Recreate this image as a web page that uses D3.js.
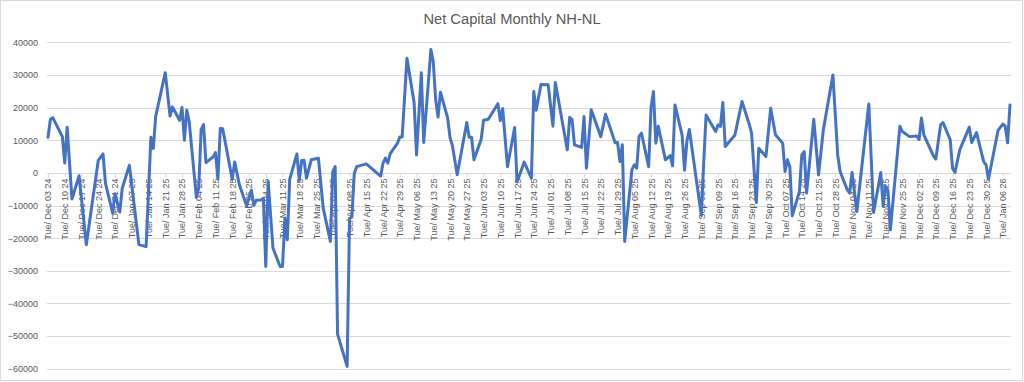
<!DOCTYPE html>
<html>
<head>
<meta charset="utf-8">
<script src="https://cdn.jsdelivr.net/npm/d3@7"></script>
<style>
  html, body { margin: 0; padding: 0; background: #fff; }
  svg { display: block; font-family: "Liberation Sans", Arial, sans-serif; }
</style>
</head>
<body>
<svg id="chart" width="1024" height="382"></svg>
<script>
// ---- data ----
const chartTitle = "Net Capital Monthly NH-NL";
const startDate = Date.UTC(2024, 11, 3);   // Tue Dec 03 2024
const lastDayOffset = 402;                  // Fri Jan 09 2026
// days since startDate (calendar days) of each point
const dayOffsets = [
  0, 1, 2, 6, 7, 8, 10, 13, 16, 21, 23, 24, 27, 28, 30, 31, 34, 38, 41, 43,
  44, 45, 49, 51, 52, 55, 56, 57, 58, 59, 62, 63, 64, 65, 66, 69, 70, 71, 72, 73,
  77, 78, 80, 83, 85, 86, 87, 89, 90, 91, 92, 94, 97, 98, 99, 100, 101, 104, 105, 106,
  107, 108, 110, 113, 115, 118, 119, 120, 121, 125, 126, 127, 128, 129, 133, 139, 140, 141, 142, 143,
  146, 147, 148, 150, 153, 154, 156, 157, 160, 161, 162, 163, 164, 167, 168, 169, 171, 175, 176, 177,
  178, 181, 182, 184, 188, 189, 190, 192, 195, 196, 199, 202, 203, 204, 206, 209, 211, 212, 217, 218,
  219, 220, 223, 224, 225, 227, 231, 233, 237, 238, 239, 240, 241, 244, 245, 246, 247, 248, 251, 252,
  253, 254, 255, 258, 260, 261, 262, 265, 266, 267, 268, 273, 274, 275, 279, 280, 281, 282, 283, 287,
  290, 293, 294, 296, 297, 300, 302, 304, 307, 308, 309, 310, 311, 314, 315, 316, 317, 320, 322, 324,
  328, 330, 331, 334, 335, 336, 338, 343, 345, 348, 349, 350, 351, 352, 356, 357, 360, 363, 364, 365,
  366, 370, 371, 373, 374, 377, 378, 379, 381, 385, 386, 388, 391, 392, 393, 397, 399, 400, 401, 402
];
const netValues = [
  10900, 16400, 16900, 11100, 3000, 14000, -8000, -900, -22000, 3800, 5800, -3150, -12300, -6400, -12000, -4800, 2300, -22000, -22600, 10900,
  7500, 17300, 30700, 17400, 20200, 16100, 20000, 10000, 19200, 15700, -7500, -4500, 13300, 14800, 3150, 4900, 6200, -1900, 13600, 13500,
  -2000, 3300, -3700, -10100, -5300, -10000, -8400, -8300, -7800, -28700, -2650, -23000, -28700, -28700, -13900, -20500, -2000, 5800, -2400, 3800,
  3850, -1650, 4000, 4500, -10800, -21000, 400, 1900, -49400, -59300, -14000, -13500, -100, 1900, 2750, -1000, 3000, 4500, 2950, 5900,
  9000, 11000, 11000, 35100, 21500, 5500, 30700, 9300, 37800, 34000, 22400, 17100, 24700, 16800, 10800, 8300, -600, 15400, 10900, 10900,
  4000, 10200, 16100, 16400, 21200, 16000, 19700, 1900, 13900, -2800, 3300, -1650, 24900, 19200, 27100, 27000, 14300, 27700, 7050, 17000,
  16300, 8600, 7800, 17250, 1450, 19300, 11100, 18000, 9200, 9300, 3450, 8600, -21000, 1000, 2450, 1450, 11200, 12150, 1900, 20000,
  24900, 9100, 14300, 4000, 5300, 2150, 20800, 11500, 800, 9800, 13300, -13000, 2950, 17750, 12650, 14700, 14200, 21550, 8100, 11500,
  21850, 15000, 12150, -9100, 7550, 5000, 19800, 11650, 9100, 400, 4000, 1900, -13200, -5700, 5500, 6500, -6200, 16400, -600, 13200,
  30000, 5500, 400, -5200, -6200, 100, -11850, 21100, -12150, 100, -10300, -4100, -5400, -17450, 14300, 12650, 11100, 11300, 10200, 16800,
  11650, 5200, 4200, 14700, 15400, 10200, 1400, 100, 7050, 14000, 9300, 12350, 3450, 2450, -1950, 13000, 14950, 14300, 9200, 20800
];
const yTicks = [-60000, -50000, -40000, -30000, -20000, -10000, 0, 10000, 20000, 30000, 40000];
const tickLabelFormat = "%a/ %b %d %y";

// ---- chart ----
const svg = d3.select("#chart");
const W = 1024, H = 382;
const plotLeft = 47, plotRight = 1011;

svg.append("rect")
  .attr("x", 0.5).attr("y", 0.5).attr("width", W - 2).attr("height", H - 2)
  .attr("fill", "#fff").attr("stroke", "#d9d9d9").attr("stroke-width", 1);

const startD = new Date(startDate);
const endD = d3.utcDay.offset(startD, lastDayOffset);
const x = d3.scaleUtc().domain([startD, endD]).range([48, 1010]);
const y = d3.scaleLinear().domain([-60000, 40000]).range([368.7, 42.3]);

// title
svg.append("text")
  .attr("x", 512).attr("y", 24)
  .attr("text-anchor", "middle")
  .attr("fill", "#595959")
  .style("font-size", "14.7px")
  .text(chartTitle);

// gridlines
svg.append("g").selectAll("line")
  .data(yTicks).join("line")
  .attr("x1", plotLeft).attr("x2", plotRight)
  .attr("y1", d => Math.round(y(d)) + 0.5).attr("y2", d => Math.round(y(d)) + 0.5)
  .attr("stroke", "#d9d9d9").attr("stroke-width", 1);

// y labels
const yAxis = d3.axisLeft(y).tickValues(yTicks).tickSize(0).tickPadding(0).tickFormat(d3.format("d"));
const gy = svg.append("g").attr("transform", `translate(38,0)`).call(yAxis);
gy.select(".domain").remove();
gy.selectAll("text").attr("fill", "#595959").style("font-size", "9px").style("font-family", "Liberation Sans, Arial, sans-serif");

// x axis at zero
const xTicks = d3.utcTuesday.range(startD, d3.utcDay.offset(endD, 1));
const xAxis = d3.axisBottom(x).tickValues(xTicks).tickSize(4).tickFormat(d3.utcFormat(tickLabelFormat));
const gx = svg.append("g").attr("transform", `translate(0,${Math.round(y(0)) + 0.5})`).call(xAxis);
gx.select(".domain").attr("stroke", "#d9d9d9").attr("d", `M${plotLeft},0H${plotRight}`);
gx.selectAll(".tick line").attr("stroke", "#d9d9d9");
gx.selectAll(".tick text")
  .attr("fill", "#595959")
  .style("font-size", "9px")
  .style("font-family", "Liberation Sans, Arial, sans-serif")
  .attr("text-anchor", "end")
  .attr("transform", "rotate(-90)")
  .attr("x", -5).attr("y", 0).attr("dy", "0.33em");

// line
const pts = dayOffsets.map((d, i) => ({ date: d3.utcDay.offset(startD, d), v: netValues[i] }));
svg.append("path")
  .datum(pts)
  .attr("fill", "none")
  .attr("stroke", "#4472C4")
  .attr("stroke-width", 3)
  .attr("stroke-linejoin", "round")
  .attr("stroke-linecap", "round")
  .attr("d", d3.line().x(d => x(d.date)).y(d => y(d.v)));
</script>
</body>
</html>
